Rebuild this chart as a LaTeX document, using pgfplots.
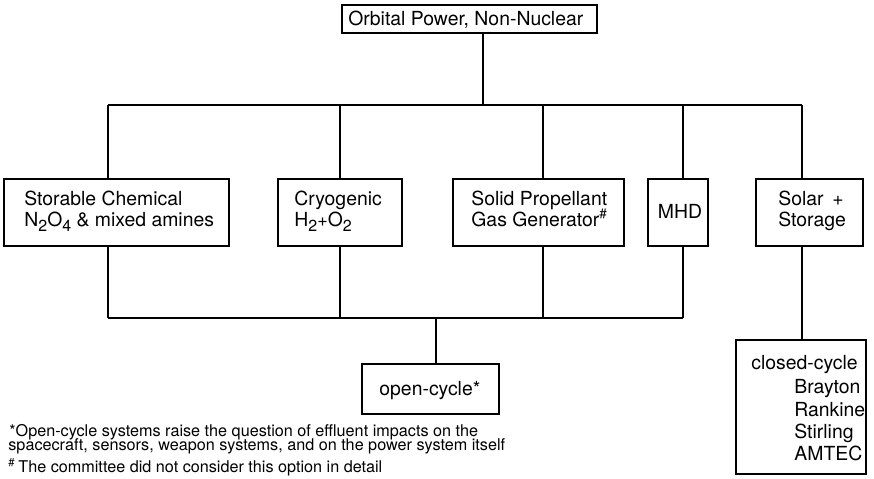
\documentclass[border=0pt]{standalone}
\usepackage{pgfplots}
\pgfplotsset{compat=1.18}
\usepackage{fontspec}
\setmainfont{TeX Gyre Heros}

% one axis unit = one pixel of the 874x478 reference, y runs downward
\newcommand{\bx}[4]{\addplot[line width=0.8pt] coordinates {(#1,#3) (#2,#3) (#2,#4) (#1,#4)} -- cycle;}
\newcommand{\seg}[4]{\addplot[line width=1.2pt] coordinates {(#1,#2) (#3,#4)};}
\newcommand{\sub}[1]{\raisebox{-0.5ex}{\fontsize{8}{8}\selectfont #1}}

\begin{document}
\begin{tikzpicture}
\begin{axis}[
    width=437pt, height=239pt, scale only axis,
    xmin=0, xmax=874, ymin=0, ymax=478, y dir=reverse,
    hide axis, clip=false,
    every axis plot/.append style={black, no markers},
    nodes={font=\fontsize{9.7}{11}\selectfont, inner sep=0pt},
  ]
  % boxes: x1 x2 y1 y2
  \bx{342}{597}{5}{33}
  \bx{4}{229}{179}{246}
  \bx{278}{402}{179}{246}
  \bx{453}{624}{179}{246}
  \bx{648}{708}{179}{246}
  \bx{756}{863}{179}{246}
  \bx{362}{499}{364}{414}
  \bx{736}{866}{340}{474}

  % connectors
  \seg{483}{33}{483}{105}
  \seg{108}{105}{802}{105}
  \seg{108}{105}{108}{179}
  \seg{340}{105}{340}{179}
  \seg{543}{105}{543}{179}
  \seg{683}{105}{683}{179}
  \seg{802}{105}{802}{179}
  \seg{108}{246}{108}{318}
  \seg{340}{246}{340}{318}
  \seg{543}{246}{543}{318}
  \seg{683}{246}{683}{318}
  \seg{108}{318}{683}{318}
  \seg{436}{318}{436}{364}
  \seg{802}{246}{802}{340}

  % box texts
  \node[anchor=base west] at (axis cs:348,25) {Orbital Power, Non-Nuclear};
  \node[anchor=base west] at (axis cs:24,205) {Storable Chemical};
  \node[anchor=base west] at (axis cs:24,226) {N\sub{2}O\sub{4} \& mixed amines};
  \node[anchor=base west] at (axis cs:294,205) {Cryogenic};
  \node[anchor=base west] at (axis cs:294,226) {H\sub{2}{\small +}O\sub{2}};
  \node[anchor=base west] at (axis cs:471,205) {Solid Propellant};
  \node[anchor=base west] at (axis cs:471,226) {Gas Generator\textsuperscript{\#}};
  \node[anchor=base] at (axis cs:680,218) {MHD};
  \node[anchor=base west] at (axis cs:778,205) {Solar \,+};
  \node[anchor=base west] at (axis cs:778,226) {Storage};
  \node[anchor=base west] at (axis cs:379,395) {open-cycle*};
  \node[anchor=base west] at (axis cs:751,369) {closed-cycle};
  \node[anchor=base west] at (axis cs:794,393) {Brayton};
  \node[anchor=base west] at (axis cs:794,416) {Rankine};
  \node[anchor=base west] at (axis cs:794,438) {Stirling};
  \node[anchor=base west] at (axis cs:794,460) {AMTEC};

  % footnotes
  \node[anchor=base west, font=\fontsize{8.1}{10}\selectfont] at (axis cs:9,436)
    {*Open-cycle systems raise the question of effluent impacts on the};
  \node[anchor=base west, font=\fontsize{8.1}{10}\selectfont] at (axis cs:8,450)
    {spacecraft, sensors, weapon systems, and on the power system itself};
  \node[anchor=base west, font=\fontsize{8.1}{10}\selectfont] at (axis cs:8,472)
    {\textsuperscript{\#}\,The committee did not consider this option in detail};
\end{axis}
\pgfresetboundingbox
\path (0,0) rectangle (437pt,239pt);
\end{tikzpicture}
\end{document}
